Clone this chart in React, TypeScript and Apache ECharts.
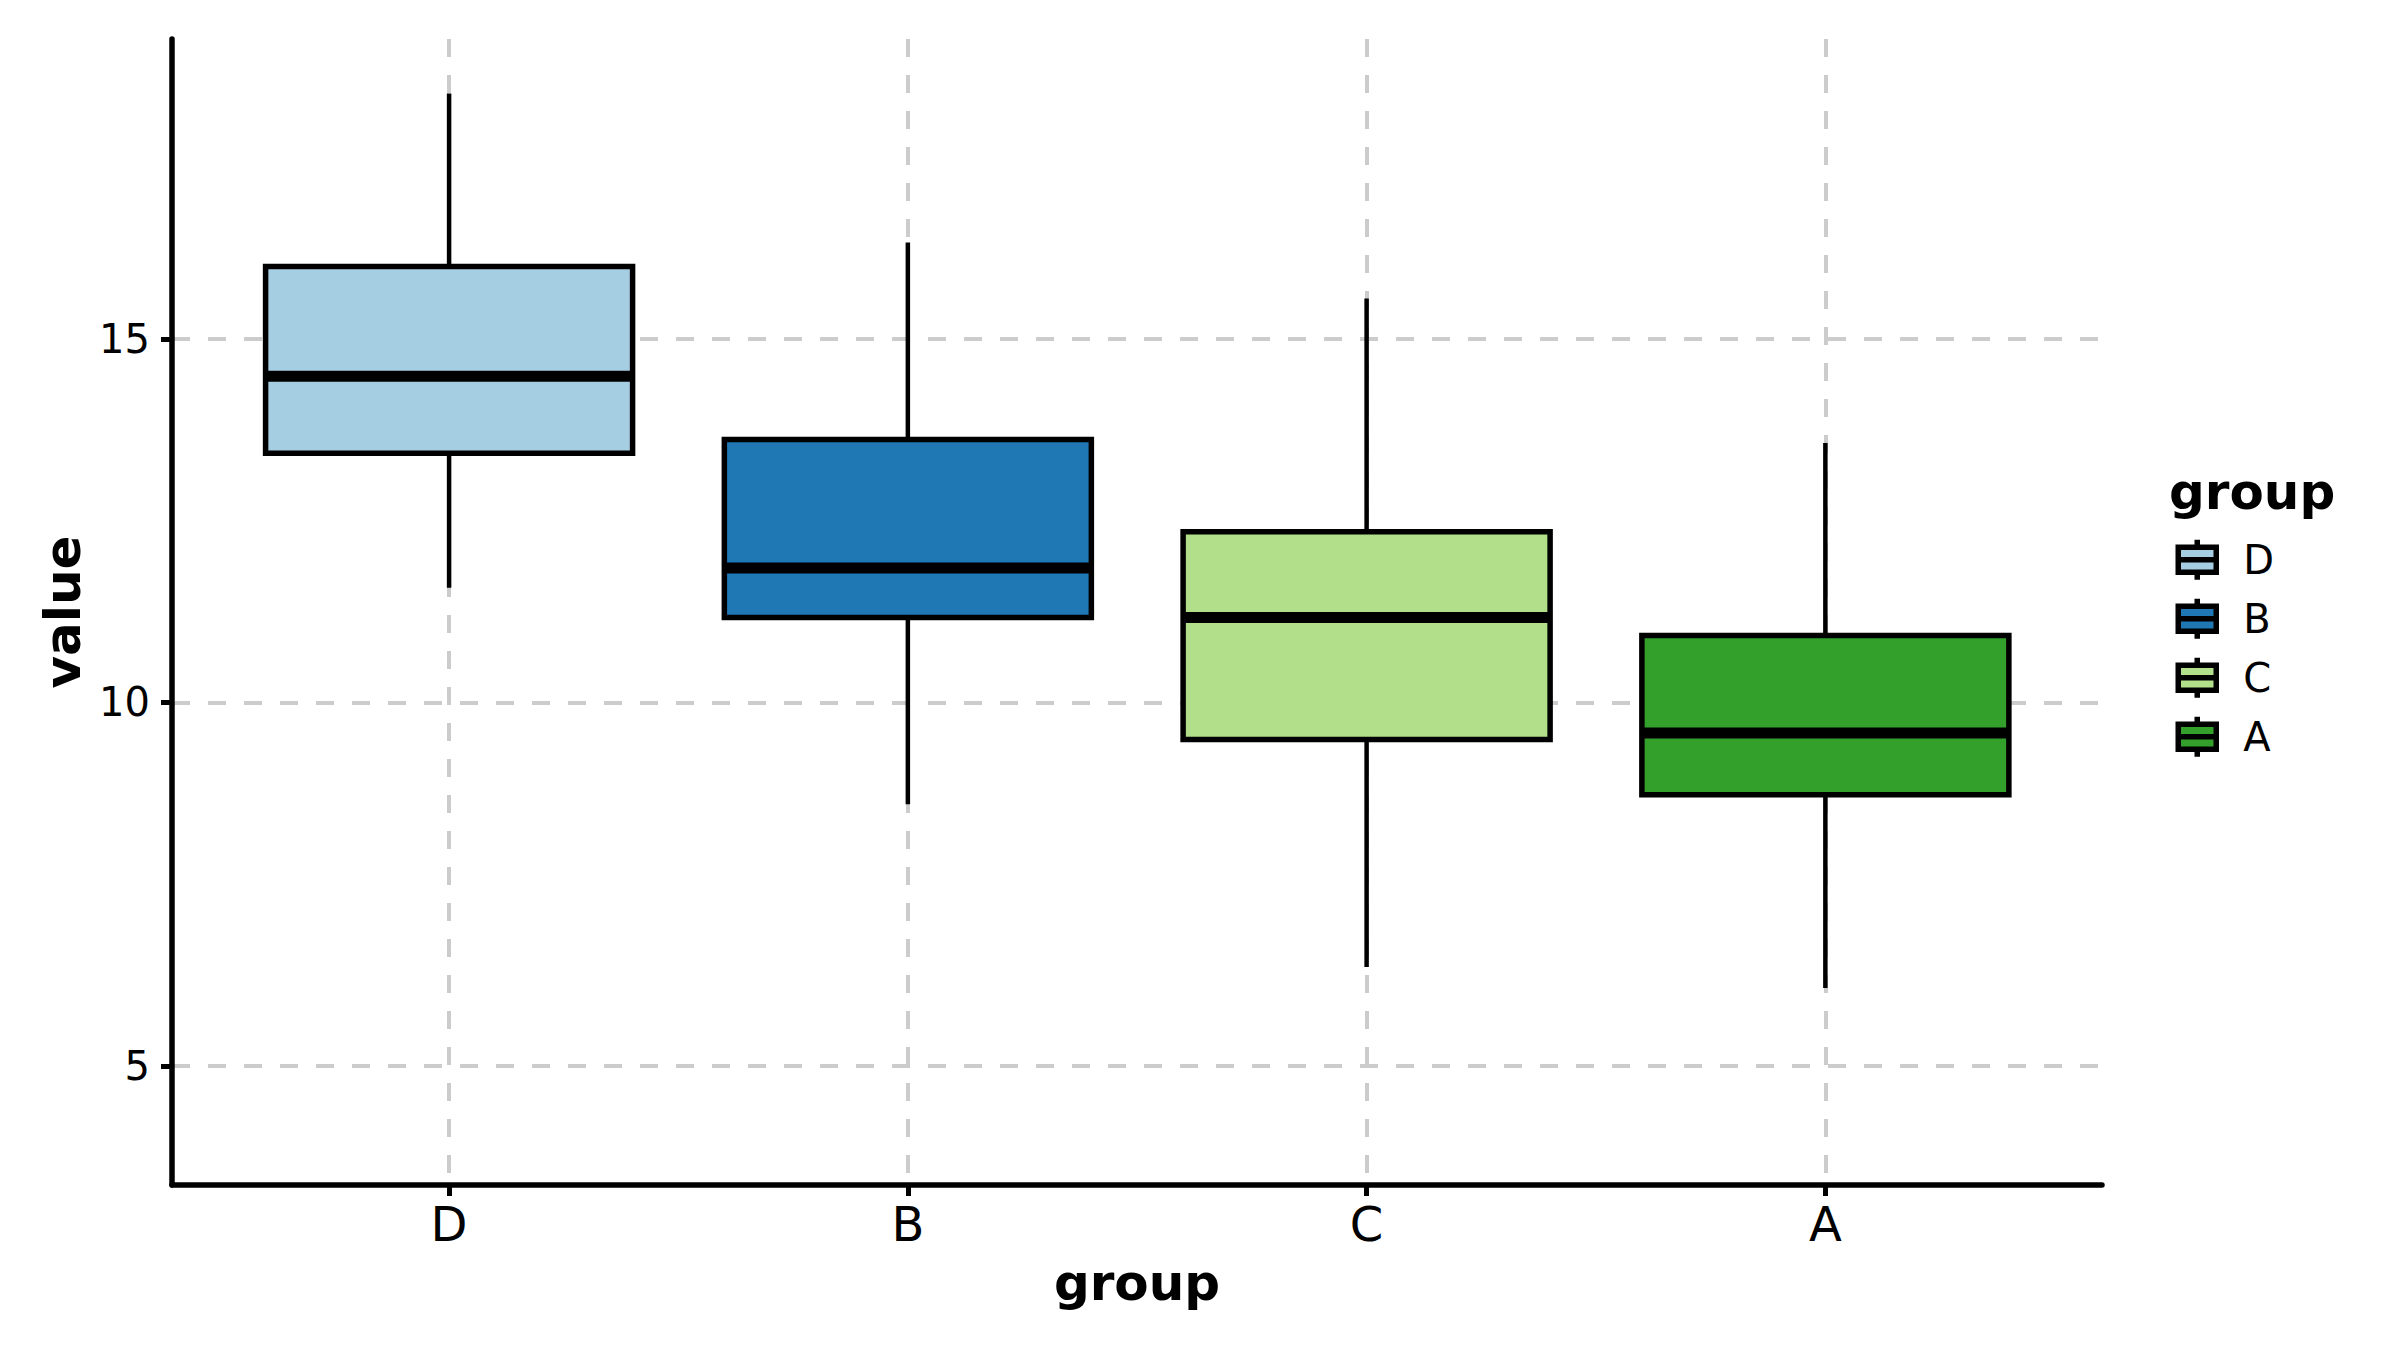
import React, { useEffect, useRef } from 'react';
import * as echarts from 'echarts';

const CATEGORIES = ['D', 'B', 'C', 'A'];
const X_POSITIONS = [0, 1, 2, 3];
const COLORS = ['#a6cee3', '#1f78b4', '#b2df8a', '#33a02c'];
const WHISKER_LOW = [11.58, 8.6, 6.36, 6.07];
const Q1 = [13.43, 11.17, 9.49, 8.73];
const MEDIAN = [14.49, 11.85, 11.17, 9.58];
const Q3 = [16.0, 13.62, 12.35, 10.92];
const WHISKER_HIGH = [18.38, 16.33, 15.56, 13.57];
const Y_TICKS = [5, 10, 15];

const FONT = '"DejaVu Sans", "Noto Sans", sans-serif';
const BOX_WIDTH = 0.8;
const LEGEND_ICON = 'path://M0,7.5H38V32.5H0Z M0,20H38 M19,0V7.5 M19,32.5V40';

export default function App() {
  const ref = useRef<HTMLDivElement>(null);

  useEffect(() => {
    if (!ref.current) return;
    const chart = echarts.init(ref.current, null, { renderer: 'svg' });

    const series = CATEGORIES.map((name, i) => ({
      name,
      type: 'custom',
      itemStyle: { color: COLORS[i] },
      encode: { x: 0, y: [1, 2, 3, 4, 5] },
      data: [[X_POSITIONS[i], WHISKER_LOW[i], Q1[i], MEDIAN[i], Q3[i], WHISKER_HIGH[i]]],
      renderItem: (params: any, api: any) => {
        const x = api.value(0);
        const low = api.coord([x, api.value(1)]);
        const q1 = api.coord([x, api.value(2)]);
        const med = api.coord([x, api.value(3)]);
        const q3 = api.coord([x, api.value(4)]);
        const high = api.coord([x, api.value(5)]);
        const half = api.size([BOX_WIDTH, 0])[0] / 2;
        const cx = q1[0];
        return {
          type: 'group',
          children: [
            {
              type: 'line',
              shape: { x1: cx, y1: low[1], x2: cx, y2: q1[1] },
              style: { stroke: '#000', lineWidth: 4.5 },
            },
            {
              type: 'line',
              shape: { x1: cx, y1: q3[1], x2: cx, y2: high[1] },
              style: { stroke: '#000', lineWidth: 4.5 },
            },
            {
              type: 'rect',
              shape: { x: cx - half, y: q3[1], width: half * 2, height: q1[1] - q3[1] },
              style: { fill: COLORS[i], stroke: '#000', lineWidth: 5.5 },
            },
            {
              type: 'line',
              shape: { x1: cx - half, y1: med[1], x2: cx + half, y2: med[1] },
              style: { stroke: '#000', lineWidth: 11 },
            },
          ],
        };
      },
    }));

    const option: any = {
      animation: false,
      backgroundColor: '#ffffff',
      textStyle: { fontFamily: FONT },
      grid: { left: 172, top: 39, right: 298, bottom: 166, containLabel: false },
      xAxis: {
        type: 'value',
        min: -0.604,
        max: 3.603,
        name: 'group',
        nameLocation: 'middle',
        nameGap: 73,
        nameTextStyle: { fontSize: 50, fontWeight: 'bold', color: '#000', fontFamily: FONT },
        axisLine: { show: true, onZero: false, lineStyle: { color: '#000', width: 5.5 } },
        axisTick: {
          show: true,
          customValues: X_POSITIONS,
          length: 11,
          lineStyle: { color: '#000', width: 5 },
        },
        axisLabel: {
          customValues: X_POSITIONS,
          formatter: (v: number) => CATEGORIES[Math.round(v)] ?? '',
          fontSize: 48,
          color: '#000',
          margin: 15,
          fontFamily: FONT,
        },
        splitLine: {
          show: true,
          lineStyle: { color: '#cccccc', width: 4, type: [18, 18] },
        },
      },
      yAxis: {
        type: 'value',
        min: 3.36,
        max: 19.13,
        name: 'value',
        nameLocation: 'middle',
        nameGap: 84,
        nameTextStyle: { fontSize: 50, fontWeight: 'bold', color: '#000', fontFamily: FONT },
        axisLine: { show: true, onZero: false, lineStyle: { color: '#000', width: 5.5 } },
        axisTick: {
          show: true,
          customValues: Y_TICKS,
          length: 11,
          lineStyle: { color: '#000', width: 5 },
        },
        axisLabel: {
          customValues: Y_TICKS,
          fontSize: 40,
          color: '#000',
          margin: 22,
          fontFamily: FONT,
        },
        splitLine: {
          show: true,
          lineStyle: { color: '#cccccc', width: 4, type: [18, 18] },
        },
      },
      legend: {
        orient: 'vertical',
        left: 2175.5,
        top: 537,
        padding: 0,
        itemWidth: 38,
        itemHeight: 40,
        itemGap: 13.5,
        selectedMode: false,
        textStyle: {
          fontSize: 40,
          color: '#000',
          fontFamily: FONT,
          padding: [0, 0, 0, 22],
        },
        data: CATEGORIES.map((name, i) => ({
          name,
          icon: LEGEND_ICON,
          itemStyle: { color: COLORS[i], borderColor: '#000', borderWidth: 5.5 },
        })),
      },
      graphic: [
        {
          type: 'text',
          x: 2169,
          y: 467,
          style: {
            text: 'group',
            fontSize: 50,
            fontWeight: 'bold',
            fontFamily: FONT,
            fill: '#000',
            verticalAlign: 'top',
            align: 'left',
          },
        },
      ],
      series,
    };

    chart.setOption(option);
    return () => chart.dispose();
  }, []);

  return (
    <div
      ref={ref}
      style={{ position: 'fixed', left: 0, top: 0, width: 2400, height: 1351, background: '#fff' }}
    />
  );
}
